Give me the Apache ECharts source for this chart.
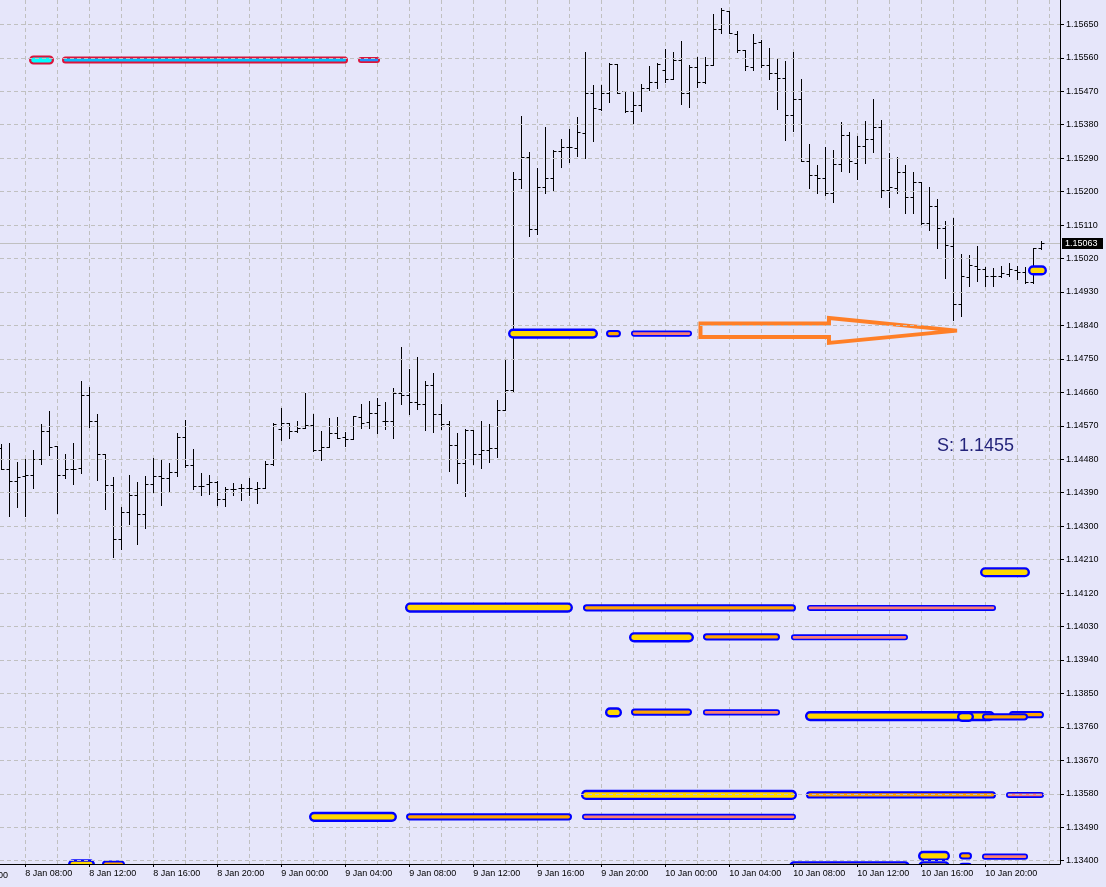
<!DOCTYPE html>
<html><head><meta charset="utf-8">
<script src="https://cdn.jsdelivr.net/npm/echarts@6/dist/echarts.min.js"></script>
<style>html,body{margin:0;padding:0;background:#E6E6FA;}#c{width:1106px;height:887px;}</style>
</head><body><div id="c"></div>
<script>
// ---- DATA (M30 bars, x = bar number counted from 8 Jan 08:00) ----
const firstBar = -3;
const opens = [1.14510,1.14454,1.14421,1.14435,1.14437,1.14480,1.14556,1.14516,1.14437,1.14454,1.14456,1.14653,1.14583,1.14494,1.14411,1.14265,1.14338,1.14384,1.14332,1.14413,1.14435,1.14429,1.14445,1.14540,1.14464,1.14408,1.14413,1.14419,1.14373,1.14400,1.14402,1.14402,1.14400,1.14402,1.14467,1.14561,1.14578,1.14556,1.14564,1.14572,1.14505,1.14513,1.14551,1.14540,1.14534,1.14594,1.14580,1.14604,1.14583,1.14583,1.14658,1.14653,1.14634,1.14629,1.14680,1.14602,1.14575,1.14518,1.14470,1.14559,1.14494,1.14505,1.14510,1.14612,1.14666,1.15234,1.15293,1.15099,1.15212,1.15237,1.15309,1.15320,1.15317,1.15358,1.15465,1.15422,1.15465,1.15543,1.15471,1.15417,1.15433,1.15479,1.15495,1.15527,1.15503,1.15554,1.15465,1.15535,1.15495,1.15541,1.15637,1.15686,1.15624,1.15581,1.15535,1.15602,1.15541,1.15519,1.15506,1.15406,1.15449,1.15282,1.15245,1.15237,1.15196,1.15274,1.15352,1.15277,1.15323,1.15342,1.15374,1.15204,1.15210,1.15253,1.15185,1.15226,1.15116,1.15161,1.15102,1.15054,1.14898,1.14971,1.14999,1.14991,1.14973,1.14973,1.14978,1.14989,1.14983,1.14958,1.15047];
const highs = [1.14521,1.14524,1.14472,1.14480,1.14505,1.14575,1.14610,1.14516,1.14494,1.14524,1.14691,1.14674,1.14602,1.14494,1.14432,1.14351,1.14437,1.14419,1.14435,1.14483,1.14480,1.14470,1.14551,1.14586,1.14508,1.14443,1.14437,1.14421,1.14405,1.14416,1.14413,1.14429,1.14419,1.14475,1.14578,1.14618,1.14578,1.14583,1.14658,1.14602,1.14556,1.14591,1.14594,1.14553,1.14596,1.14629,1.14637,1.14645,1.14634,1.14672,1.14782,1.14723,1.14755,1.14691,1.14712,1.14629,1.14583,1.14551,1.14561,1.14559,1.14583,1.14575,1.14639,1.14750,1.15253,1.15403,1.15307,1.15264,1.15374,1.15312,1.15342,1.15368,1.15401,1.15576,1.15487,1.15487,1.15546,1.15543,1.15471,1.15468,1.15489,1.15538,1.15546,1.15584,1.15576,1.15605,1.15541,1.15562,1.15562,1.15678,1.15694,1.15686,1.15632,1.15581,1.15624,1.15608,1.15586,1.15557,1.15551,1.15576,1.15503,1.15328,1.15271,1.15320,1.15312,1.15387,1.15360,1.15350,1.15390,1.15449,1.15393,1.15304,1.15293,1.15271,1.15253,1.15226,1.15212,1.15180,1.15121,1.15129,1.15032,1.15029,1.15054,1.14997,1.14994,1.14999,1.15007,1.14999,1.14997,1.15047,1.15066];
const lows = [1.14454,1.14327,1.14351,1.14327,1.14402,1.14467,1.14491,1.14335,1.14429,1.14413,1.14443,1.14567,1.14424,1.14346,1.14217,1.14238,1.14305,1.14252,1.14295,1.14392,1.14357,1.14392,1.14435,1.14459,1.14400,1.14384,1.14386,1.14357,1.14354,1.14384,1.14370,1.14384,1.14362,1.14402,1.14464,1.14532,1.14537,1.14553,1.14564,1.14502,1.14478,1.14513,1.14537,1.14516,1.14534,1.14564,1.14564,1.14551,1.14561,1.14537,1.14629,1.14602,1.14615,1.14559,1.14553,1.14561,1.14448,1.14416,1.14381,1.14467,1.14456,1.14472,1.14486,1.14612,1.14664,1.15210,1.15081,1.15086,1.15196,1.15204,1.15266,1.15280,1.15296,1.15291,1.15336,1.15420,1.15441,1.15465,1.15414,1.15382,1.15417,1.15473,1.15479,1.15495,1.15503,1.15436,1.15428,1.15481,1.15492,1.15541,1.15627,1.15627,1.15576,1.15527,1.15527,1.15535,1.15503,1.15422,1.15339,1.15363,1.15282,1.15210,1.15196,1.15191,1.15172,1.15256,1.15253,1.15234,1.15277,1.15307,1.15186,1.15159,1.15196,1.15142,1.15142,1.15113,1.15097,1.15048,1.14968,1.14855,1.14865,1.14946,1.14960,1.14946,1.14946,1.14971,1.14973,1.14966,1.14955,1.14955,1.15045];
const closes = [1.14454,1.14421,1.14432,1.14437,1.14480,1.14556,1.14513,1.14437,1.14454,1.14454,1.14653,1.14583,1.14494,1.14411,1.14265,1.14338,1.14384,1.14332,1.14413,1.14435,1.14429,1.14445,1.14540,1.14464,1.14408,1.14408,1.14419,1.14373,1.14400,1.14400,1.14402,1.14402,1.14402,1.14467,1.14575,1.14578,1.14556,1.14564,1.14572,1.14505,1.14513,1.14551,1.14537,1.14534,1.14596,1.14578,1.14604,1.14626,1.14583,1.14658,1.14653,1.14634,1.14629,1.14680,1.14602,1.14575,1.14518,1.14470,1.14559,1.14494,1.14505,1.14510,1.14612,1.14666,1.15234,1.15293,1.15099,1.15212,1.15237,1.15309,1.15320,1.15320,1.15360,1.15465,1.15425,1.15465,1.15543,1.15465,1.15417,1.15433,1.15479,1.15495,1.15543,1.15503,1.15554,1.15465,1.15535,1.15495,1.15541,1.15637,1.15688,1.15627,1.15581,1.15538,1.15600,1.15541,1.15519,1.15506,1.15406,1.15449,1.15282,1.15245,1.15237,1.15196,1.15274,1.15352,1.15282,1.15323,1.15342,1.15374,1.15204,1.15212,1.15253,1.15185,1.15226,1.15116,1.15161,1.15102,1.15056,1.14898,1.14973,1.15002,1.14991,1.14973,1.14973,1.14981,1.14991,1.14983,1.14958,1.15047,1.15063];

const timeLabelBars = [0,8,16,24,32,40,48,56,64,72,80,88,96,104,112,120];
const timeLabels = ["8 Jan 08:00","8 Jan 12:00","8 Jan 16:00","8 Jan 20:00","9 Jan 00:00","9 Jan 04:00","9 Jan 08:00","9 Jan 12:00","9 Jan 16:00","9 Jan 20:00","10 Jan 00:00","10 Jan 04:00","10 Jan 08:00","10 Jan 12:00","10 Jan 16:00","10 Jan 20:00"];
const gridBars = [-4,0,4,8,12,16,20,24,28,32,36,40,44,48,52,56,60,64,68,72,76,80,84,88,92,96,100,104,108,112,116,120,124,128];
const priceTicks = [1.13400,1.13490,1.13580,1.13670,1.13760,1.13850,1.13940,1.14030,1.14120,1.14210,1.14300,1.14390,1.14480,1.14570,1.14660,1.14750,1.14840,1.14930,1.15020,1.15110,1.15200,1.15290,1.15380,1.15470,1.15560,1.15650];

// levels: [startBar, endBar, price]
const goldLevels = [[60.34,71.59,1.14818],[119.34,125.59,1.14176],[47.46,68.46,1.14081],[75.46,83.59,1.14001],[72.46,74.59,1.13799],[97.46,121.21,1.13789],[116.46,118.59,1.13787],[69.46,96.46,1.13577],[35.46,46.46,1.13518],[5.34,8.71,1.13390],[95.46,110.59,1.13385],[111.59,115.59,1.13413],[111.59,115.59,1.13385],[125.34,127.71,1.14988]];
const orangeLevels = [[72.59,74.46,1.14818],[69.71,96.34,1.14080],[84.71,94.34,1.14002],[75.71,83.34,1.13800],[122.96,127.34,1.13793],[119.59,125.34,1.13787],[97.59,121.34,1.13577],[47.59,68.34,1.13518],[9.59,12.46,1.13391],[116.71,118.34,1.13413],[116.71,118.34,1.13385]];
const salmonLevels = [[75.71,83.34,1.14818],[97.71,121.34,1.14080],[95.71,110.34,1.14001],[84.71,94.34,1.13799],[122.59,127.34,1.13577],[69.59,96.34,1.13518],[119.59,125.34,1.13411]];
const aquaLevels = [[0.46,3.59,1.15554]];
const skyLevels = [[4.59,40.34,1.15554]];
const dodgerLevels = [[41.59,44.34,1.15554]];
// arrow outline (bar, price)
const arrowBars = [84.4,100.46,100.46,116.46,100.46,100.46,84.4];
const arrowPrices = [1.14845,1.14845,1.14860,1.14826,1.14793,1.14809,1.14809];
const annotation = "S: 1.1455";
const prevLabel = "8 Jan 04:00";

// ---- BUILD ----
const bars = opens.map((o,k)=>[firstBar+k,o,highs[k],lows[k],closes[k]]);
const lastBar = bars[bars.length-1][0];
const lastPrice = closes[closes.length-1];
const FONT = "Liberation Sans";

function barRender(params, api){
  const x = api.value(0);
  const o = api.coord([x, api.value(1)]);
  const h = api.coord([x, api.value(2)]);
  const l = api.coord([x, api.value(3)]);
  const c = api.coord([x, api.value(4)]);
  const px = Math.round(o[0]) + 0.5;
  const yo = Math.round(o[1]) + 0.5, yc = Math.round(c[1]) + 0.5;
  const st = {stroke:'#000', lineWidth:1};
  return {type:'group', children:[
    {type:'line', shape:{x1:px,y1:Math.round(h[1]),x2:px,y2:Math.round(l[1])+1}, style:st},
    {type:'line', shape:{x1:px-3,y1:yo,x2:px,y2:yo}, style:st},
    {type:'line', shape:{x1:px,y1:yc,x2:px+3,y2:yc}, style:st}
  ]};
}
function capsule(fill, stroke, h, lw){
  return function(params, api){
    const a = api.coord([api.value(0), api.value(2)]);
    const b = api.coord([api.value(1), api.value(2)]);
    return {type:'rect', shape:{x:a[0]+lw/2, y:a[1]-h/2, width:Math.max(b[0]-a[0]-lw,1), height:h, r:h/2},
      style:{fill:fill, stroke:stroke, lineWidth:lw}};
  };
}
function levelSeries(data, fill, stroke, h, lw){
  return {type:'custom', data:data, renderItem:capsule(fill,stroke,h,lw), encode:{x:[0,1], y:2}, clip:true, silent:true, z:3};
}
function priceLineRender(params, api){
  const p = api.coord([api.value(0), api.value(1)]);
  const cs = params.coordSys;
  const y = Math.round(p[1]) + 0.5;
  const bx = cs.x + cs.width + 2;
  return {type:'group', children:[
    {type:'line', shape:{x1:cs.x, y1:y, x2:cs.x+cs.width, y2:y}, style:{stroke:'#C0C0C0', lineWidth:1}},
    {type:'rect', shape:{x:bx, y:Math.round(p[1])-5, width:41, height:11}, style:{fill:'#000'}},
    {type:'text', x:bx+3, y:Math.round(p[1])+0.5, style:{text:api.value(1).toFixed(5), fill:'#fff', font:'9px "Liberation Sans"', verticalAlign:'middle', align:'left'}}
  ]};
}

const chart = echarts.init(document.getElementById('c'), null, {renderer:'canvas'});
chart.setOption({
  animation:false,
  backgroundColor:'#E6E6FA',
  grid:{left:0, right:46, top:0, bottom:23, containLabel:false, outerBoundsMode:'none'},
  xAxis:[{
    type:'value', min:-3.1625, max:129.34, position:'bottom', z:5,
    axisLine:{show:true, onZero:false, lineStyle:{color:'#000', width:1}},
    axisTick:{show:true, length:3, customValues:timeLabelBars, lineStyle:{color:'#000'}},
    axisLabel:{show:true, customValues:timeLabelBars, align:'left', margin:5, color:'#000', fontSize:9, fontFamily:FONT,
      formatter:function(v){const k=timeLabelBars.indexOf(Math.round(v)); return k>=0?timeLabels[k]:'';}},
    splitLine:{show:false}
  },{
    type:'value', min:-3.1625, max:129.34, position:'top',
    axisLine:{show:false, onZero:false}, axisLabel:{show:false},
    axisTick:{show:false, customValues:gridBars},
    splitLine:{show:true, lineStyle:{color:'#C0C0C0', type:[4,3], width:1}}
  }],
  yAxis:{
    type:'value', position:'right', min:1.133912, max:1.157154, z:5,
    axisLine:{show:true, onZero:false, lineStyle:{color:'#000', width:1}},
    axisTick:{show:true, length:4, customValues:priceTicks, lineStyle:{color:'#000'}},
    axisLabel:{customValues:priceTicks, margin:6, color:'#000', fontSize:9, fontFamily:FONT, formatter:v=>v.toFixed(5)},
    splitLine:{show:true, lineStyle:{color:'#C0C0C0', type:[4,3], width:1}}
  },
  series:[
    {type:'custom', data:[[lastBar, lastPrice]], renderItem:priceLineRender, encode:{x:0, y:1}, silent:true, z:1},
    {type:'custom', data:bars, renderItem:barRender, encode:{x:0, y:[1,2,3,4]}, clip:true, silent:true, z:2},
    levelSeries(aquaLevels, '#00FFFF', '#DC143C', 7, 2.2),
    levelSeries(skyLevels, '#00BFFF', '#DC143C', 5, 2),
    levelSeries(dodgerLevels, '#1E90FF', '#DC143C', 4.2, 1.8),
    levelSeries(goldLevels, '#FFD700', '#0000FF', 7.8, 2.4),
    levelSeries(orangeLevels, '#FFA500', '#0000FF', 5.3, 2),
    levelSeries(salmonLevels, '#FA8072', '#0000FF', 4.4, 1.7),
    {type:'custom', data:[0], silent:true, z:4,
      renderItem:function(params, api){
        const pts = arrowBars.map((b,k)=>api.coord([b, arrowPrices[k]]));
        return {type:'polygon', shape:{points:pts}, style:{fill:null, stroke:'#FF7F27', lineWidth:4, lineJoin:'miter'}};
      }}
  ],
  graphic:[
    {type:'text', left:937, top:437, style:{text:annotation, fill:'#23237A', font:'18px "Liberation Sans"'}},
    {type:'text', x:-39, y:871, style:{text:prevLabel, fill:'#000', font:'9px "Liberation Sans"'}}
  ]
});
</script></body></html>
